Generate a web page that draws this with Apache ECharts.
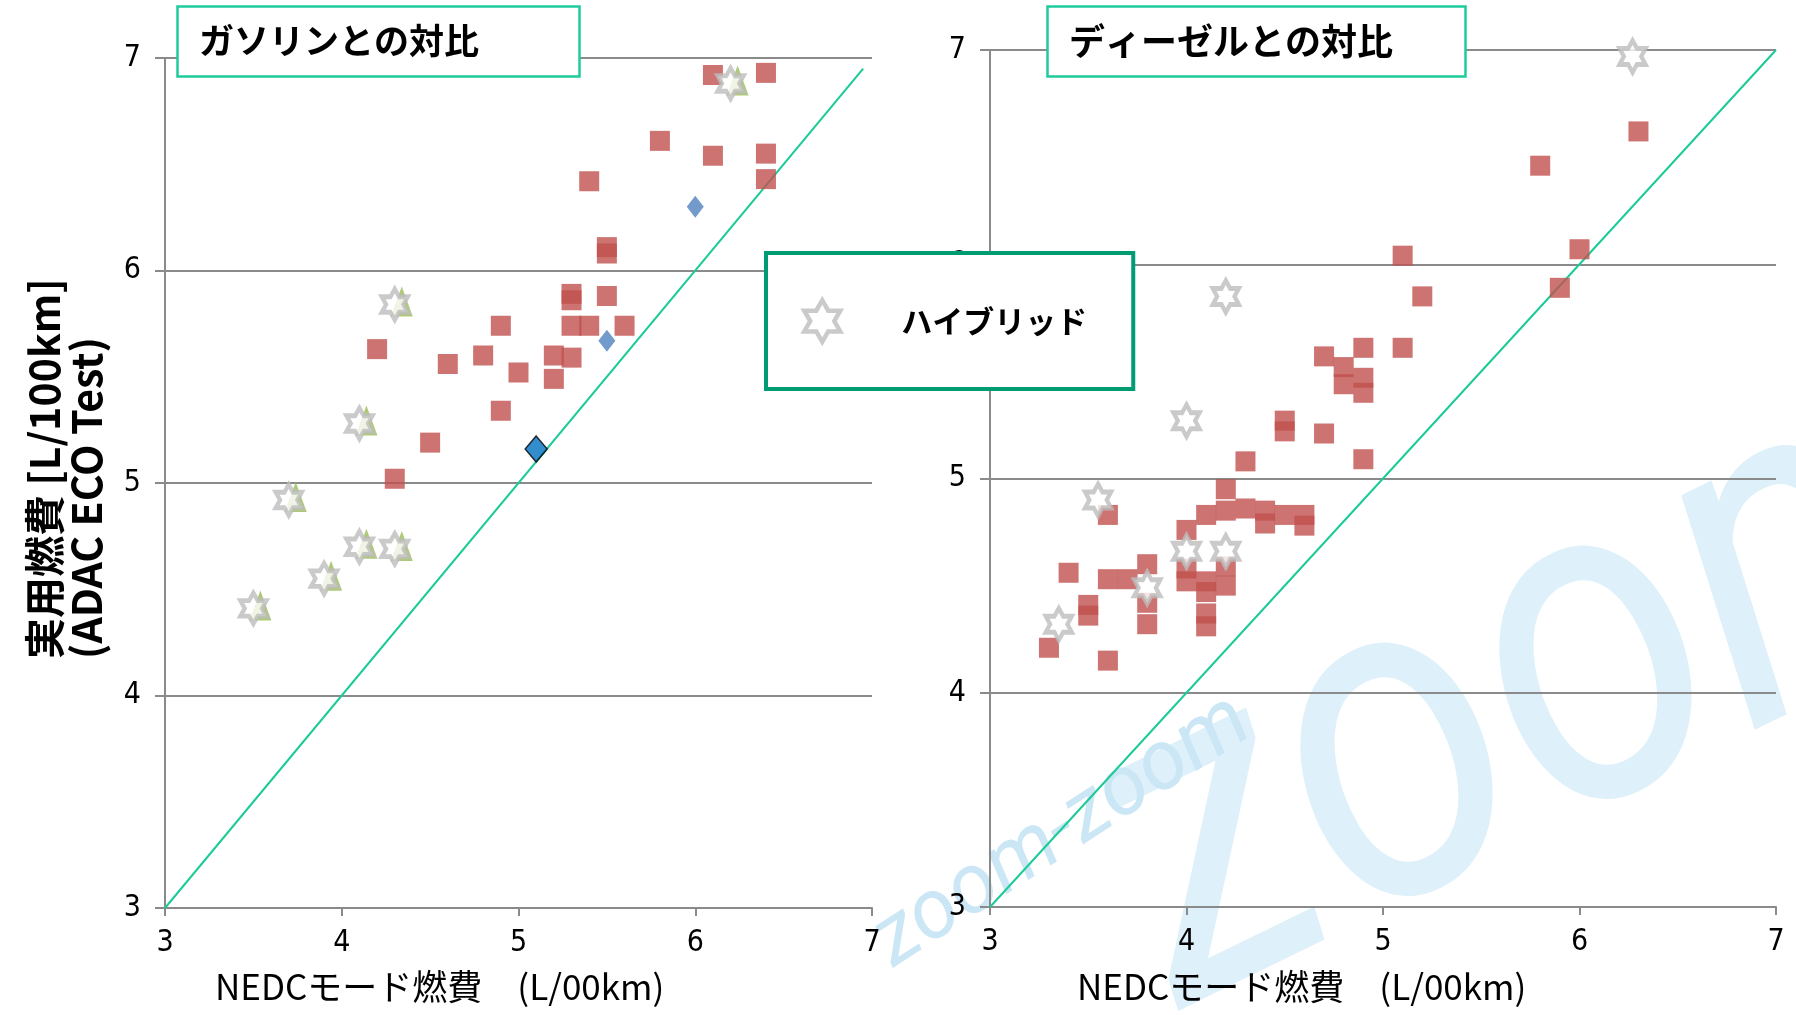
<!DOCTYPE html>
<html><head><meta charset="utf-8">
<script src="https://cdn.jsdelivr.net/npm/echarts@6/dist/echarts.min.js"></script>
<style>html,body{margin:0;padding:0;background:#fff}#c{width:1796px;height:1015px}</style>
</head><body><div id="c"></div>
<script>
// ---- data (L/100km): [NEDC, ADAC real-world] ----
const axisTicks = [3, 4, 5, 6, 7];
const panelTitles = ['ガソリンとの対比', 'ディーゼルとの対比'];
const xAxisTitle = 'NEDCモード燃費　(L/00km)';
const yAxisTitle = ['実用燃費 [L/100km]', '(ADAC ECO Test)'];
const hybridName = 'ハイブリッド';

const gasolineCars = [
  [6.1,6.92],[6.4,6.93],[5.8,6.61],[6.1,6.54],[6.4,6.55],[6.4,6.43],[5.4,6.42],
  [5.5,6.11],[5.5,6.08],[5.3,5.89],[5.3,5.86],[5.5,5.88],[4.9,5.74],[5.3,5.74],
  [5.4,5.74],[5.6,5.74],[4.2,5.63],[4.6,5.56],[4.8,5.60],[5.0,5.52],[5.2,5.60],
  [5.3,5.59],[5.2,5.49],[4.9,5.34],[4.5,5.19],[4.3,5.02]
];
const gasolineBlue = [[6.0,6.30],[5.5,5.67]];
const gasolineBlueDark = [[5.1,5.16]];
const gasolineHybrid = [[3.5,4.41],[3.9,4.55],[4.1,4.70],[4.3,4.69],[3.7,4.92],[4.1,5.28],[4.3,5.84],[6.2,6.88]];

const dieselCars = [
  [6.3,6.62],[5.8,6.46],[6.0,6.07],[5.9,5.89],[5.1,6.04],[5.2,5.85],[5.1,5.61],
  [4.7,5.57],[4.8,5.52],[4.8,5.44],[4.9,5.61],[4.9,5.47],[4.9,5.40],[4.5,5.27],
  [4.5,5.22],[4.7,5.21],[4.3,5.08],[4.9,5.09],[4.2,4.95],[4.2,4.85],[4.1,4.83],
  [4.3,4.86],[4.4,4.85],[4.4,4.79],[4.5,4.83],[4.6,4.83],[4.6,4.78],[3.6,4.83],
  [4.0,4.76],[4.0,4.58],[4.0,4.52],[4.1,4.52],[4.1,4.47],[4.2,4.59],[4.2,4.50],
  [3.8,4.60],[3.8,4.42],[3.8,4.32],[3.6,4.53],[3.7,4.53],[3.4,4.56],[3.5,4.41],
  [3.5,4.36],[3.3,4.21],[3.6,4.15],[4.1,4.37],[4.1,4.31]
];
const dieselHybrid = [[6.27,6.97],[4.2,5.85],[4.0,5.27],[3.55,4.90],[4.0,4.66],[4.2,4.66],[3.8,4.49],[3.35,4.32]];

const parityLeft = [[3,3],[6.95,6.95]];
const parityRight = [[3,3],[7,7]];

// ---- styling ----
const STAR = 'path://M43.3,0L57.7,25L86.6,25L72.2,50L86.6,75L57.7,75L43.3,100L28.9,75L0,75L14.4,50L0,25L28.9,25Z';
const GRID_C = '#8a8a8a';
const TICK_FONT = "'Liberation Sans Narrow','DejaVu Sans Condensed',sans-serif";
const JP = "'Noto Sans CJK JP',sans-serif";

function xAx(i){
  return {gridIndex:i, type:'value', min:axisTicks[0], max:axisTicks[axisTicks.length-1], interval:1,
    axisLine:{show:true, onZero:false, lineStyle:{color:GRID_C, width:2}},
    axisTick:{show:true, length:8, lineStyle:{color:GRID_C, width:2}},
    splitLine:{show:false},
    axisLabel:{fontSize:30, fontFamily:TICK_FONT, color:'#000', margin:20}};
}
function yAx(i){
  return {gridIndex:i, type:'value', min:axisTicks[0], max:axisTicks[axisTicks.length-1], interval:1,
    axisLine:{show:true, onZero:false, lineStyle:{color:GRID_C, width:2}},
    axisTick:{show:true, length:10, lineStyle:{color:GRID_C, width:2}},
    splitLine:{show:true, lineStyle:{color:GRID_C, width:2}},
    axisLabel:{fontSize:30, fontFamily:TICK_FONT, color:'#000', margin:24}};
}
const redStyle = {color:'#C0504D'};
const starStyle = {color:'#fff', borderColor:'#BDBDBD', borderWidth:4.5};

const chart = echarts.init(document.getElementById('c'), null, {renderer:'canvas'});
chart.setOption({
  animation:false,
  backgroundColor:'#fff',
  grid:[
    {left:165, top:58, width:707, height:850},
    {left:990, top:50, width:786, height:857}
  ],
  xAxis:[xAx(0), xAx(1)],
  yAxis:[yAx(0), yAx(1)],
  title:[
    {text:panelTitles[0], left:177, top:6, padding:[15,101,16,22], borderColor:'#1ECB9B', borderWidth:2.5,
     backgroundColor:'#fff', textStyle:{fontSize:35, fontWeight:'bold', fontFamily:JP, color:'#000', lineHeight:40}},
    {text:panelTitles[1], left:1047, top:6, padding:[15,73,16,22], borderColor:'#1ECB9B', borderWidth:2.5,
     backgroundColor:'#fff', textStyle:{fontSize:36, fontWeight:'bold', fontFamily:JP, color:'#000', lineHeight:40}}
  ],
  legend:{
    data:[{name:hybridName, icon:STAR}],
    left:766, top:253, padding:[45,46,45,36], itemWidth:36, itemHeight:42,
    borderColor:'#009B73', borderWidth:4, backgroundColor:'#fff', selectedMode:false,
    itemStyle:{color:'#fff', borderColor:'#BDBDBD', borderWidth:4.5},
    textStyle:{fontSize:31, fontFamily:JP, fontWeight:'bold', color:'#000', padding:[0,0,0,56]}
  },
  graphic:[
    {type:'text', z:-2, x:1131, y:906, rotation:26*Math.PI/180, scaleY:1.15,
     style:{text:'zoom', font:'italic 400px Roboto, sans-serif', fill:'#DEF0F9', align:'left', verticalAlign:'middle', textAlign:'left', textVerticalAlign:'middle'}},
    {type:'text', z:-1, x:905, y:985, rotation:33*Math.PI/180,
     style:{text:'zoom-zoom', font:'italic 84px Roboto, sans-serif', fill:'#CBE6F5', align:'left', verticalAlign:'bottom', textAlign:'left', textVerticalAlign:'bottom'}},
    {type:'text', x:44, y:659, rotation:Math.PI/2,
     style:{text:yAxisTitle[0], font:'bold 41px '+JP, fill:'#000', align:'left', verticalAlign:'middle', textAlign:'left', textVerticalAlign:'middle'}},
    {type:'text', x:86, y:659, rotation:Math.PI/2,
     style:{text:yAxisTitle[1], font:'bold 41px '+JP, fill:'#000', align:'left', verticalAlign:'middle', textAlign:'left', textVerticalAlign:'middle'}},
    {type:'text', x:215, y:987,
     style:{text:xAxisTitle, font:'35px '+JP, fill:'#000', align:'left', verticalAlign:'middle', textAlign:'left', textVerticalAlign:'middle'}},
    {type:'text', x:1077, y:987,
     style:{text:xAxisTitle, font:'35px '+JP, fill:'#000', align:'left', verticalAlign:'middle', textAlign:'left', textVerticalAlign:'middle'}}
  ],
  series:[
    {name:'parityL', type:'line', xAxisIndex:0, yAxisIndex:0, data:parityLeft, symbol:'none', z:1,
     lineStyle:{color:'#1BCB97', width:2}},
    {name:'gasolineCars', type:'scatter', xAxisIndex:0, yAxisIndex:0, data:gasolineCars, symbol:'rect', symbolSize:20, itemStyle:redStyle},
    {name:'gasolineBlue', type:'scatter', xAxisIndex:0, yAxisIndex:0, data:gasolineBlue, symbol:'diamond', symbolSize:[17,22], itemStyle:{color:'#4F81BD'}},
    {name:'gasolineBlueDark', type:'scatter', xAxisIndex:0, yAxisIndex:0, data:gasolineBlueDark, symbol:'diamond', symbolSize:[22,26], itemStyle:{color:'#0070C0', borderColor:'#000', borderWidth:1.5}},
    {name:'hybridTri', type:'scatter', xAxisIndex:0, yAxisIndex:0, data:gasolineHybrid, symbol:'triangle', symbolSize:[22,30], symbolOffset:[7,-3], itemStyle:{color:'#9BBB59'}},
    {name:hybridName, type:'scatter', xAxisIndex:0, yAxisIndex:0, data:gasolineHybrid, symbol:STAR, symbolSize:[26,31], itemStyle:starStyle},
    {name:'parityR', type:'line', xAxisIndex:1, yAxisIndex:1, data:parityRight, symbol:'none', z:1,
     lineStyle:{color:'#1BCB97', width:2}},
    {name:'dieselCars', type:'scatter', xAxisIndex:1, yAxisIndex:1, data:dieselCars, symbol:'rect', symbolSize:20, itemStyle:redStyle},
    {name:hybridName, type:'scatter', xAxisIndex:1, yAxisIndex:1, data:dieselHybrid, symbol:STAR, symbolSize:[26,32], itemStyle:starStyle}
  ]
});
</script></body></html>
